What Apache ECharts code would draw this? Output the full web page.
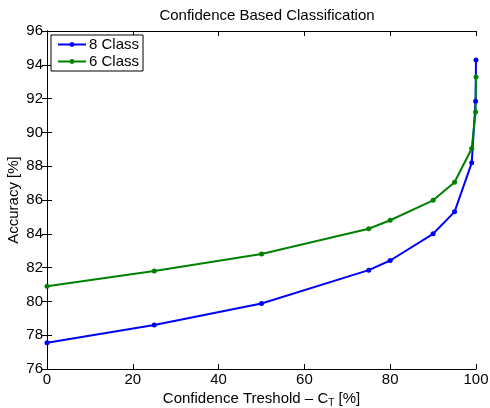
<!DOCTYPE html>
<html>
<head>
<meta charset="utf-8">
<script src="https://cdn.jsdelivr.net/npm/echarts@6/dist/echarts.min.js"></script>
<style>
  html, body { margin: 0; padding: 0; background: #fff; }
  #chart { width: 490px; height: 408px; }
</style>
</head>
<body>
<div id="chart"></div>
<script>
// confidence threshold values (x)
let thresholds = [0, 25, 50, 75, 80, 90, 95, 99, 99.9, 100]
// accuracy per threshold
let acc8 = [77.55, 78.6, 79.88, 81.85, 82.42, 84.0, 85.3, 88.2, 91.85, 94.28]
let acc6 = [80.9, 81.8, 82.8, 84.3, 84.8, 85.98, 87.05, 89.05, 91.2, 93.28]

let myChart = echarts.init(document.getElementById('chart'))

function pairs(xs, ys) {
  return xs.map((x, i) => [x, ys[i]])
}

let font = 'Liberation Sans, Arial, sans-serif'
let axisLine = { show: true, lineStyle: { color: '#000', width: 1 } }
let tick = { show: true, inside: true, length: 5, lineStyle: { color: '#000' } }

let option = {
  animation: false,
  title: {
    text: 'Confidence Based Classification',
    left: 262,
    textAlign: 'center',
    top: 3,
    textStyle: { fontFamily: font, fontSize: 15, fontWeight: 'normal', color: '#000' }
  },
  legend: {
    left: 51,
    top: 35,
    orient: 'vertical',
    backgroundColor: '#fff',
    borderColor: '#000',
    borderWidth: 1,
    padding: [2, 4, 2, 6],
    itemGap: 2,
    itemWidth: 28,
    itemHeight: 6,
    textStyle: { fontFamily: font, fontSize: 15, color: '#000', padding: [0, 0, 0, -2] },
    data: ['8 Class', '6 Class']
  },
  grid: { left: 47, right: 14, top: 31, bottom: 39, outerBoundsMode: 'none' },
  xAxis: [{
    type: 'value',
    min: 0, max: 100, interval: 20,
    axisLine: axisLine,
    axisTick: tick,
    splitLine: { show: false },
    axisLabel: { fontFamily: font, fontSize: 15, color: '#000', margin: 3 },
    name: 'Confidence Treshold – C{sub|T} [%]',
    nameLocation: 'middle',
    nameGap: 20,
    nameMoveOverlap: false,
    nameTextStyle: {
      fontFamily: font, fontSize: 15, color: '#000',
      rich: { sub: { fontFamily: font, fontSize: 10, color: '#000', verticalAlign: 'bottom', padding: [9, 0, 0, 0] } }
    }
  }, {
    type: 'value', position: 'top',
    min: 0, max: 100, interval: 20,
    axisLine: axisLine, axisTick: tick,
    axisLabel: { show: false }, splitLine: { show: false }
  }],
  yAxis: [{
    type: 'value',
    min: 76, max: 96, interval: 2,
    axisLine: axisLine,
    axisTick: tick,
    splitLine: { show: false },
    axisLabel: { fontFamily: font, fontSize: 15, color: '#000', margin: 4 },
    name: 'Accuracy [%]',
    nameLocation: 'middle',
    nameGap: 26,
    nameMoveOverlap: false,
    nameTextStyle: { fontFamily: font, fontSize: 15, color: '#000' }
  }, {
    type: 'value', position: 'right',
    min: 76, max: 96, interval: 2,
    axisLine: axisLine, axisTick: tick,
    axisLabel: { show: false }, splitLine: { show: false }
  }],
  series: [
    {
      name: '8 Class',
      type: 'line',
      data: pairs(thresholds, acc8),
      symbol: 'circle',
      symbolSize: 5,
      itemStyle: { color: '#0000ff' },
      lineStyle: { color: '#0000ff', width: 2 }
    },
    {
      name: '6 Class',
      type: 'line',
      data: pairs(thresholds, acc6),
      symbol: 'circle',
      symbolSize: 5,
      itemStyle: { color: '#008000' },
      lineStyle: { color: '#008000', width: 2 }
    }
  ]
}
myChart.setOption(option)
</script>
</body>
</html>
